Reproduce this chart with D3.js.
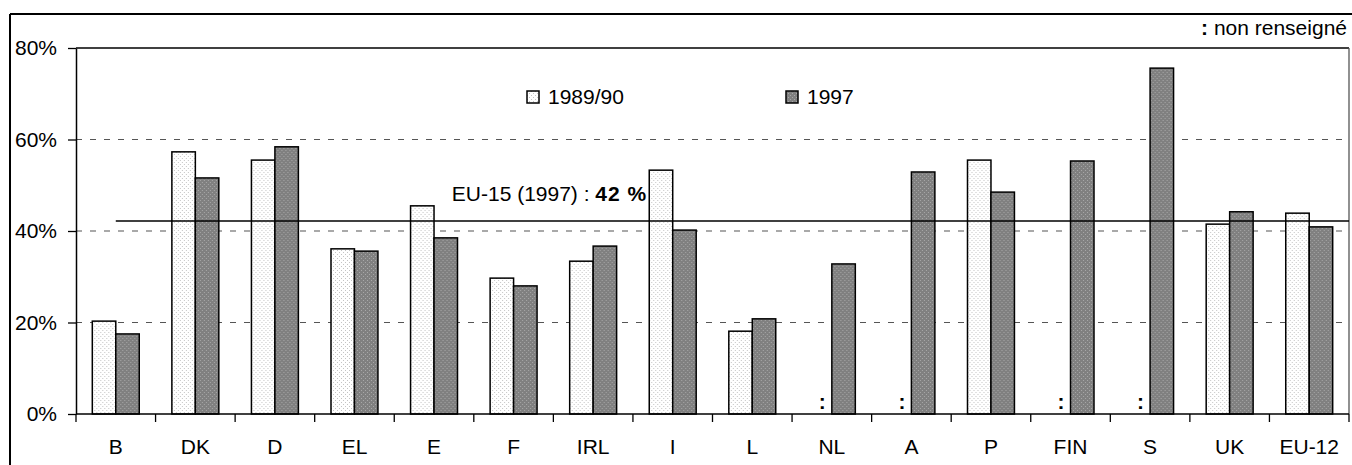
<!DOCTYPE html>
<html>
<head>
<meta charset="utf-8">
<script src="https://cdn.jsdelivr.net/npm/d3@7"></script>
<style>
  html, body { margin: 0; padding: 0; background: #fff; }
  svg text { font-family: "Liberation Sans", Arial, sans-serif; fill: #000; }
</style>
</head>
<body>
<svg id="chart" width="1352" height="465"></svg>
<script>
// ---- data ----
const categories = ["B","DK","D","EL","E","F","IRL","I","L","NL","A","P","FIN","S","UK","EU-12"];
const seriesNames = ["1989/90","1997"];
const values1989 = [20.3,57.3,55.5,36.1,45.5,29.7,33.4,53.3,18.1,null,null,55.5,null,null,41.5,43.9];
const values1997 = [17.5,51.6,58.4,35.6,38.5,28.0,36.7,40.2,20.8,32.8,52.9,48.5,55.3,75.6,44.2,40.9];
const yTicks = [0,20,40,60,80];
const gridTicks = [20,40,60];
const eu15Value = 42.2;
const eu15Label = "EU-15 (1997) : ";
const eu15Bold = "42 %";
const noteText = "non renseigné";

// ---- layout ----
const svg = d3.select("#chart");
const mLeft = 76, mRight = 1349, mTop = 48, mBottom = 414;
const FS = 21;

// patterns
const defs = svg.append("defs");
const pl = defs.append("pattern").attr("id","pLight").attr("patternUnits","userSpaceOnUse")
  .attr("width",4).attr("height",4);
pl.append("rect").attr("width",4).attr("height",4).attr("fill","#ffffff");
pl.append("rect").attr("x",0).attr("y",0).attr("width",1).attr("height",1).attr("fill","#c4c4c4");
pl.append("rect").attr("x",2).attr("y",2).attr("width",1).attr("height",1).attr("fill","#c4c4c4");
const pd = defs.append("pattern").attr("id","pDark").attr("patternUnits","userSpaceOnUse")
  .attr("width",4).attr("height",4);
pd.append("rect").attr("width",4).attr("height",4).attr("fill","#808080");
pd.append("rect").attr("x",0).attr("y",0).attr("width",1).attr("height",1).attr("fill","#a8a8a8");
pd.append("rect").attr("x",2).attr("y",2).attr("width",1).attr("height",1).attr("fill","#a8a8a8");
const fills = {"1989/90":"url(#pLight)","1997":"url(#pDark)"};

// outer border
svg.append("line").attr("x1",10).attr("x2",1352).attr("y1",14).attr("y2",14).attr("stroke","#000").attr("stroke-width",2);
svg.append("line").attr("x1",10).attr("x2",10).attr("y1",14).attr("y2",465).attr("stroke","#000").attr("stroke-width",2);

// scales
const y = d3.scaleLinear().domain([0,80]).range([mBottom, mTop]);
const x = d3.scaleBand().domain(categories).range([mLeft, mRight]).paddingInner(0.41).paddingOuter(0.205);
const x1 = d3.scaleBand().domain(seriesNames).range([0, x.bandwidth()]);

// gridlines
svg.append("g").selectAll("line").data(gridTicks).join("line")
  .attr("x1", mLeft).attr("x2", mRight)
  .attr("y1", d => y(d)).attr("y2", d => y(d))
  .attr("stroke","#555").attr("stroke-width",1.1).attr("stroke-dasharray","6,8");

// frame top & right
svg.append("line").attr("x1",mLeft).attr("x2",mRight).attr("y1",mTop).attr("y2",mTop).attr("stroke","#000").attr("stroke-width",1.3);
svg.append("line").attr("x1",mRight).attr("x2",mRight).attr("y1",mTop).attr("y2",mBottom).attr("stroke","#555").attr("stroke-width",1.3);

// bars
const rows = categories.map((c,i) => ({cat:c, vals:[{s:"1989/90", v:values1989[i]},{s:"1997", v:values1997[i]}]}));
const grp = svg.append("g").selectAll("g").data(rows).join("g")
  .attr("transform", d => `translate(${x(d.cat)},0)`);
grp.selectAll("rect").data(d => d.vals.filter(e => e.v !== null)).join("rect")
  .attr("x", d => x1(d.s)).attr("width", x1.bandwidth())
  .attr("y", d => y(d.v)).attr("height", d => y(0) - y(d.v))
  .attr("fill", d => fills[d.s]).attr("stroke","#000").attr("stroke-width",1.5);
// missing-value markers
grp.selectAll("text.miss").data(d => d.vals.filter(e => e.v === null)).join("text")
  .attr("class","miss")
  .attr("x", d => x1(d.s) + x1.bandwidth() - 6).attr("y", y(0) - 5)
  .attr("text-anchor","end").attr("font-size",FS).attr("font-weight","bold").text(":");

// EU-15 line
svg.append("line")
  .attr("x1", x(categories[0]) + x.bandwidth()/2).attr("x2", mRight)
  .attr("y1", y(eu15Value)).attr("y2", y(eu15Value))
  .attr("stroke","#000").attr("stroke-width",1.6);
const lbl = svg.append("text").attr("x", x("I") - 2).attr("y", y(eu15Value) - 20)
  .attr("text-anchor","end").attr("font-size",FS);
lbl.append("tspan").text(eu15Label);
lbl.append("tspan").attr("font-weight","bold").attr("letter-spacing",1).text(eu15Bold);

// y axis
const yAxis = svg.append("g").attr("transform",`translate(${mLeft},0)`)
  .call(d3.axisLeft(y).tickValues(yTicks).tickSize(8).tickSizeOuter(0).tickPadding(11).tickFormat(d => d + "%"));
yAxis.selectAll("text").attr("font-size",FS).attr("fill","#000").style("font-family","Liberation Sans, Arial, sans-serif");
yAxis.selectAll("line").attr("stroke","#000").attr("stroke-width",1.3);
yAxis.select(".domain").attr("stroke","#000").attr("stroke-width",1.5);

// x axis
svg.append("line").attr("x1",mLeft).attr("x2",mRight).attr("y1",mBottom).attr("y2",mBottom).attr("stroke","#000").attr("stroke-width",1.5);
const half = (x.step() - x.bandwidth())/2;
const bounds = categories.map(c => x(c) - half).concat([x(categories[categories.length-1]) + x.bandwidth() + half]);
svg.append("g").selectAll("line").data(bounds).join("line")
  .attr("x1", d => d).attr("x2", d => d).attr("y1", mBottom).attr("y2", mBottom + 8)
  .attr("stroke","#000").attr("stroke-width",1.3);
svg.append("g").selectAll("text").data(categories).join("text")
  .attr("x", d => x(d) + x.bandwidth()/2).attr("y", 454)
  .attr("text-anchor","middle").attr("font-size",FS).text(d => d);

// legend
const legend = [{s:"1989/90", x:527}, {s:"1997", x:786}];
const lg = svg.append("g").selectAll("g").data(legend).join("g")
  .attr("transform", d => `translate(${d.x},91)`);
lg.append("rect").attr("width",12).attr("height",12).attr("fill", d => fills[d.s]).attr("stroke","#000").attr("stroke-width",1.5);
lg.append("text").attr("x",21).attr("y",13).attr("font-size",FS).text(d => d.s);

// note
const note = svg.append("text").attr("x",1347).attr("y",35).attr("text-anchor","end").attr("font-size",FS);
note.append("tspan").attr("font-weight","bold").text(": ");
note.append("tspan").text(noteText);
</script>
</body>
</html>
